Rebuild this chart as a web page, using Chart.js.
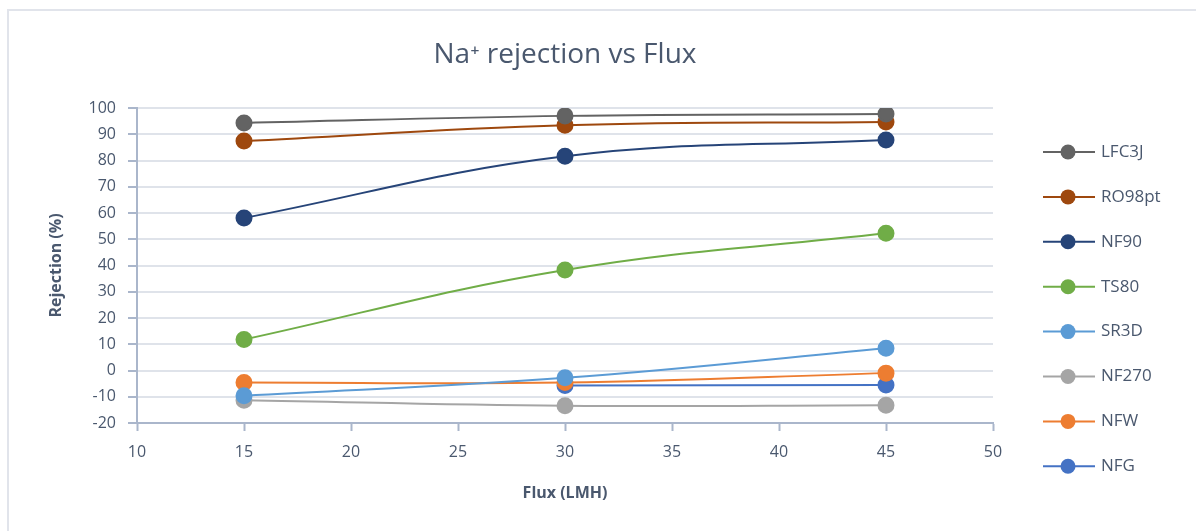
<!DOCTYPE html>
<html>
<head>
<meta charset="utf-8">
<script src="https://cdn.jsdelivr.net/npm/chart.js@4.4.1/dist/chart.umd.min.js"></script>
<style>
  html, body { margin: 0; padding: 0; background: #fff; }
  #wrap { position: relative; width: 1196px; height: 531px; }
  #frame { position: absolute; left: 7px; top: 9px; right: 0; bottom: 0;
           border-left: 2px solid #e1e4eb; border-top: 2px solid #e1e4eb; }
  canvas { position: absolute; left: 0; top: 0; }
</style>
</head>
<body>
<div id="wrap">
  <div id="frame"></div>
  <canvas id="grafico" width="1196" height="531"></canvas>
</div>
<script>
  // dados
  var fluxo = [15, 30, 45];
  var membranas = ['LFC3J', 'RO98pt', 'NF90', 'TS80', 'SR3D', 'NF270', 'NFW', 'NFG'];
  var LFC3J  = [94.3, 97.0, 97.7];
  var RO98pt = [87.4, 93.4, 94.7];
  var NF90   = [58.1, 81.6, 87.8];
  var TS80   = [11.8, 38.3, 52.3];
  var SR3D   = [-9.6, -2.8, 8.5];
  var NF270  = [-11.3, -13.4, -13.2];
  var NFW    = [-4.6, -4.6, -1.0];
  var NFG    = [null, -5.7, -5.5];
  var cores  = ['#636363', '#9e480e', '#264478', '#70ad47', '#5b9bd5', '#a5a5a5', '#ed7d31', '#4472c4'];
  var yTicks = [-20, -10, 0, 10, 20, 30, 40, 50, 60, 70, 80, 90, 100];
  var xTicks = [10, 15, 20, 25, 30, 35, 40, 45, 50];

  var valores = [LFC3J, RO98pt, NF90, TS80, SR3D, NF270, NFW, NFG];
  var corTexto = '#4a586e';
  var corEixo = '#aab6cb';
  var fonte = "'Open Sans', sans-serif";

  var datasets = membranas.map(function (nome, i) {
    return {
      label: nome,
      data: fluxo.map(function (x, j) { return { x: x, y: valores[i][j] }; }),
      borderColor: cores[i],
      backgroundColor: cores[i],
      pointBackgroundColor: cores[i],
      pointBorderColor: cores[i],
      pointRadius: 7.5,
      pointHoverRadius: 7.5,
      borderWidth: 2,
      tension: 0.4
    };
  });

  // título centrado sobre a área do gráfico
  var tituloPlugin = {
    id: 'titulo',
    afterDraw: function (chart) {
      var ctx = chart.ctx;
      var a = chart.chartArea;
      ctx.save();
      ctx.fillStyle = corTexto;
      ctx.font = '28px ' + fonte;
      ctx.textAlign = 'center';
      ctx.textBaseline = 'middle';
      ctx.fillText('Na\u207A rejection vs Flux', (a.left + a.right) / 2, 55);
      ctx.restore();
    }
  };

  // legenda à direita, estilo linha + marcador
  var legendaPlugin = {
    id: 'legendaLateral',
    afterDraw: function (chart) {
      var ctx = chart.ctx;
      var a = chart.chartArea;
      var x0 = a.right + 50;
      chart.data.datasets.forEach(function (ds, i) {
        var y = a.top + 44 + i * 44.9;
        ctx.save();
        ctx.strokeStyle = ds.borderColor;
        ctx.lineWidth = 2;
        ctx.beginPath();
        ctx.moveTo(x0, y);
        ctx.lineTo(x0 + 52, y);
        ctx.stroke();
        ctx.fillStyle = ds.borderColor;
        ctx.beginPath();
        ctx.arc(x0 + 25, y, 7.5, 0, Math.PI * 2);
        ctx.fill();
        ctx.fillStyle = corTexto;
        ctx.font = '17px ' + fonte;
        ctx.textAlign = 'left';
        ctx.textBaseline = 'middle';
        ctx.fillText(ds.label, x0 + 58, y);
        ctx.restore();
      });
    }
  };

  var ctx = document.getElementById('grafico').getContext('2d');
  var chart = new Chart(ctx, {
    type: 'line',
    data: { datasets: datasets },
    options: {
      responsive: false,
      animation: false,
      layout: { padding: { left: 0, right: 203, top: 108, bottom: 0 } },
      plugins: {
        legend: { display: false },
        title: { display: false },
        tooltip: { enabled: false }
      },
      scales: {
        x: {
          type: 'linear',
          min: 10,
          max: 50,
          afterBuildTicks: function (s) { s.ticks = xTicks.map(function (v) { return { value: v }; }); },
          afterFit: function (s) { s.height = 108; },
          grid: { drawOnChartArea: false, drawTicks: true, tickLength: 8, tickColor: corEixo, tickWidth: 2 },
          border: { color: corEixo, width: 2 },
          ticks: { color: corTexto, font: { family: fonte, size: 16 }, padding: 12, maxRotation: 0 },
          title: { display: true, text: 'Flux (LMH)', color: corTexto, font: { family: fonte, size: 16, weight: 'bold' }, padding: { top: 0, bottom: 28 } }
        },
        y: {
          min: -20,
          max: 100,
          afterBuildTicks: function (s) { s.ticks = yTicks.map(function (v) { return { value: v }; }); },
          afterFit: function (s) { s.width = 137; },
          grid: { color: '#dfe3ea', lineWidth: 2, drawTicks: true, tickLength: 9, tickColor: corEixo, tickWidth: 2 },
          border: { color: corEixo, width: 2 },
          ticks: { color: corTexto, font: { family: fonte, size: 16 }, padding: 12 },
          title: { display: true, text: 'Rejection (%)', color: corTexto, font: { family: fonte, size: 16, weight: 'bold' }, padding: { top: 47, bottom: 0 } }
        }
      }
    },
    plugins: [tituloPlugin, legendaPlugin]
  });
</script>
</body>
</html>
